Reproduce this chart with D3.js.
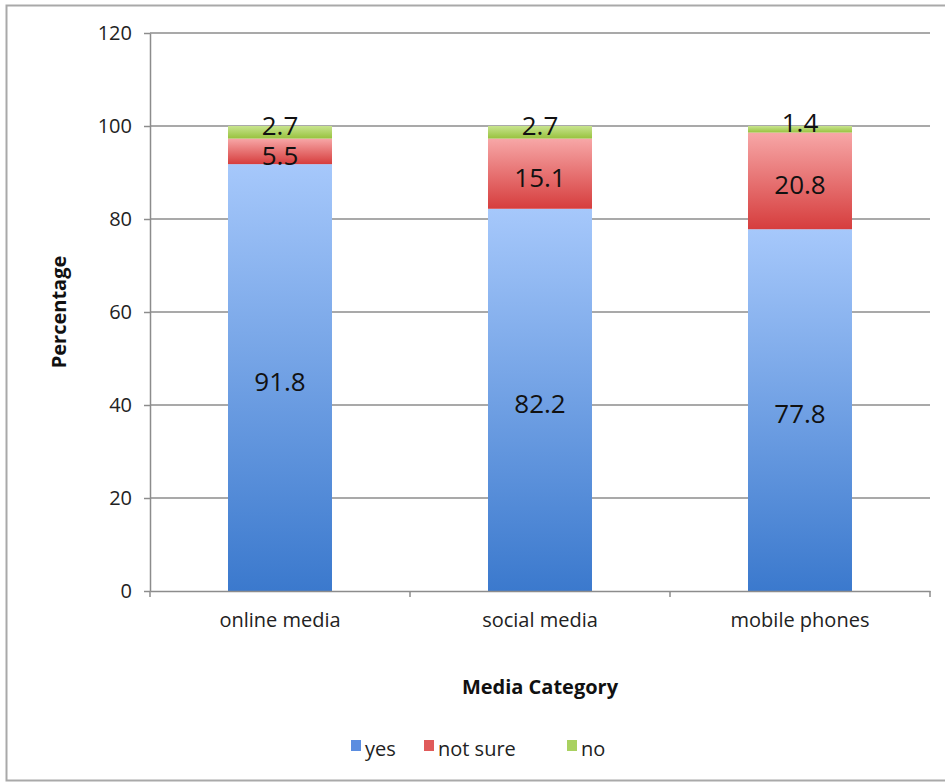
<!DOCTYPE html>
<html>
<head>
<meta charset="utf-8">
<script src="https://cdn.jsdelivr.net/npm/d3@7"></script>
<style>
  html, body { margin: 0; padding: 0; background: #fff; }
  svg { display: block; }
  text { font-family: "Open Sans", Lato, sans-serif; }
</style>
</head>
<body>
<svg id="chart" width="945" height="783"></svg>
<script>
// Media categories and survey responses (percent)
const categories = ["online media", "social media", "mobile phones"];
const yesValues = [91.8, 82.2, 77.8];
const notSureValues = [5.5, 15.1, 20.8];
const noValues = [2.7, 2.7, 1.4];
const seriesNames = ["yes", "not sure", "no"];
const yTicks = [0, 20, 40, 60, 80, 100, 120];

const rows = categories.map((c, i) => ({
  category: c, yes: yesValues[i], "not sure": notSureValues[i], no: noValues[i]
}));

const FONT = "'Open Sans', Lato, sans-serif";
const svg = d3.select("#chart");
const W = 945, H = 783;
const margin = { left: 150, right: 15, top: 33, bottom: 192 };
const plotW = W - margin.left - margin.right;
const plotH = H - margin.top - margin.bottom;

// outer frame
svg.append("rect")
  .attr("x", 6.5).attr("y", 5.5)
  .attr("width", 960).attr("height", 775)
  .attr("fill", "#fff").attr("stroke", "#a9a9a9").attr("stroke-width", 2);

const defs = svg.append("defs");
const gradStops = {
  "yes": ["#a6c8fb", "#3b79cd"],
  "not sure": ["#f7a7a7", "#d63d3d"],
  "no": ["#c8e48e", "#98c23e"]
};
const legendColors = { "yes": "#5b8de0", "not sure": "#e05a5a", "no": "#a9d160" };
seriesNames.forEach((s, i) => {
  const gr = defs.append("linearGradient")
    .attr("id", "grad" + i).attr("x1", 0).attr("y1", 0).attr("x2", 0).attr("y2", 1);
  gr.append("stop").attr("offset", "0%").attr("stop-color", gradStops[s][0]);
  gr.append("stop").attr("offset", "100%").attr("stop-color", gradStops[s][1]);
});

const g = svg.append("g").attr("transform", `translate(${margin.left},${margin.top})`);

const x = d3.scaleBand().domain(categories).range([0, plotW]).paddingInner(0.6).paddingOuter(0.3);
const y = d3.scaleLinear().domain([0, 120]).range([plotH, 0]);

// horizontal gridlines
g.append("g").selectAll("line")
  .data(yTicks.filter(t => t > 0))
  .join("line")
  .attr("x1", 0).attr("x2", plotW)
  .attr("y1", d => y(d)).attr("y2", d => y(d))
  .attr("stroke", "#8c8c8c").attr("stroke-width", 1.5);

// stacked bars
const layers = d3.stack().keys(seriesNames)(rows);

const layerG = g.append("g").selectAll("g")
  .data(layers)
  .join("g")
  .attr("fill", (d, i) => `url(#grad${i})`);

layerG.selectAll("rect")
  .data(d => d.map(v => ({ v, key: d.key })))
  .join("rect")
  .attr("x", d => x(d.v.data.category))
  .attr("width", x.bandwidth())
  .attr("y", d => y(d.v[1]))
  .attr("height", d => y(d.v[0]) - y(d.v[1]));

// value labels, centred in each segment
const labelG = g.append("g");
layers.forEach(layer => {
  layer.forEach(v => {
    const val = v.data[layer.key];
    let cy = (y(v[0]) + y(v[1])) / 2;
    cy += layer.key === "no" ? -7 : 4;
    labelG.append("text")
      .attr("x", x(v.data.category) + x.bandwidth() / 2)
      .attr("y", cy)
      .attr("dy", "0.36em")
      .attr("text-anchor", "middle")
      .attr("font-size", 26)
      .attr("fill", "#111")
      .text(d3.format(".1f")(val));
  });
});

// y axis
const yAxis = g.append("g")
  .call(d3.axisLeft(y).tickValues(yTicks).tickSize(6).tickPadding(12).tickSizeOuter(0));
yAxis.select(".domain").attr("stroke", "#8c8c8c").attr("stroke-width", 1.5);
yAxis.selectAll(".tick line").attr("stroke", "#8c8c8c").attr("stroke-width", 1.5);
yAxis.selectAll(".tick text").attr("font-size", 20).attr("fill", "#222")
  .attr("font-family", FONT);

// x axis
const xAxis = g.append("g")
  .attr("transform", `translate(0,${plotH})`)
  .call(d3.axisBottom(x).tickSize(0).tickPadding(22).tickSizeOuter(0));
xAxis.select(".domain").attr("stroke", "#8c8c8c").attr("stroke-width", 1.5);
xAxis.selectAll(".tick text").attr("font-size", 20).attr("fill", "#222")
  .attr("font-family", FONT);

// tick marks between categories
g.append("g").selectAll("line")
  .data(d3.range(categories.length + 1))
  .join("line")
  .attr("x1", i => i * plotW / categories.length)
  .attr("x2", i => i * plotW / categories.length)
  .attr("y1", plotH).attr("y2", plotH + 6)
  .attr("stroke", "#8c8c8c").attr("stroke-width", 1.5);

// axis titles
svg.append("text")
  .attr("x", margin.left + plotW / 2).attr("y", 694)
  .attr("text-anchor", "middle")
  .attr("font-size", 20).attr("font-weight", "bold").attr("fill", "#111")
  .text("Media Category");

svg.append("text")
  .attr("transform", `translate(66,${margin.top + y(60)}) rotate(-90)`)
  .attr("text-anchor", "middle")
  .attr("font-size", 20).attr("font-weight", "bold").attr("fill", "#111")
  .text("Percentage");

// legend
const legend = svg.append("g").attr("transform", "translate(0,750)");
const legendX = [351, 424, 567];
seriesNames.forEach((s, i) => {
  legend.append("rect")
    .attr("x", legendX[i]).attr("y", -10)
    .attr("width", 10).attr("height", 11)
    .attr("fill", legendColors[s]);
  legend.append("text")
    .attr("x", legendX[i] + 14).attr("y", 0)
    .attr("dy", "0.3em")
    .attr("font-size", 20).attr("fill", "#222")
    .text(s);
});
</script>
</body>
</html>
